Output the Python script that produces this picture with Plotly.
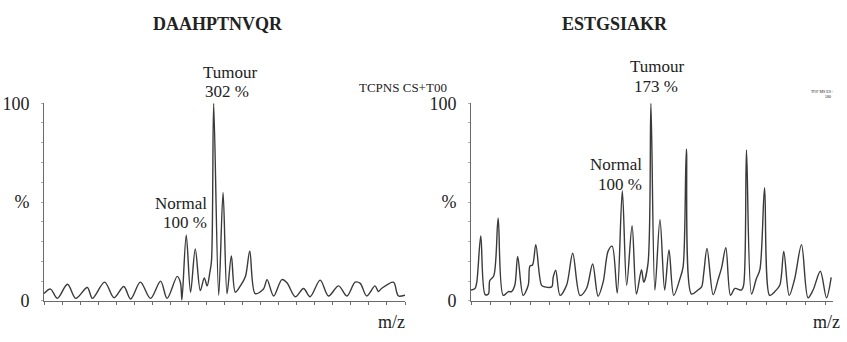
import plotly.graph_objects as go

# ---------------- data ----------------
peptide_left = "DAAHPTNVQR"
peptide_right = "ESTGSIAKR"

left_mz = [0, 1.8, 3.7, 6.5, 8.8, 12.0, 13.4, 16.8, 19.4, 22.1, 24.0, 26.7, 29.5, 32.3, 34.1,
           36.9, 37.8, 38.2, 39.4, 40.6, 41.9, 43.3, 44.4, 45.2, 45.9, 46.4, 47.0, 48.4, 49.6,
           50.7, 51.9, 53.0, 54.4, 55.8, 57.0, 58.5, 60.8, 61.8, 63.6, 65.9, 67.3, 69.6, 71.9,
           73.7, 76.5, 78.8, 81.6, 83.9, 86.2, 87.6, 89.4, 91.7, 92.6, 93.5, 96.8, 97.7, 98.2, 100]
left_int = [3.7, 6.0, 1.3, 8.4, 1.3, 6.8, 1.3, 9.5, 1.6, 7.3, 1.0, 9.5, 1.3, 10.0, 1.3,
            12.4, 9.2, 0.5, 33.3, 4.4, 26.3, 5.2, 11.6, 7.6, 14.0, 20.3, 100, 2.9, 54.9,
            3.7, 22.7, 4.4, 7.6, 12.4, 25.1, 3.7, 6.0, 10.8, 2.5, 10.8, 9.2, 2.1, 6.3,
            2.1, 10.5, 2.5, 7.6, 2.5, 9.5, 8.9, 2.5, 7.6, 4.8, 6.3, 9.5, 4.4, 2.5, 2.9]

right_mz = [0, 1.1, 1.6, 2.7, 3.9, 4.8, 5.2, 6.3, 7.5, 8.9, 10.3, 11.2, 12.1, 12.9, 14.4,
            15.8, 16.3, 17.0, 17.9, 19.5, 20.4, 22.3, 22.7, 23.4, 24.6, 26.4, 28.1, 30.1,
            31.9, 33.6, 35.1, 36.5, 37.9, 39.0, 40.4, 41.8, 43.0, 44.5, 45.7, 47.1, 47.7,
            48.9, 49.7, 50.8, 52.2, 53.5, 54.7, 56.0, 57.7, 58.6, 59.5, 60.9, 62.7, 63.7,
            64.3, 65.2, 66.9, 68.3, 69.2, 70.4, 71.7, 72.9, 74.7, 75.3, 76.1, 77.5, 78.8,
            79.8, 81.1, 82.5, 83.9, 85.3, 86.4, 87.9, 89.4, 91.3, 93.1, 94.5, 96.5, 98.2, 99.5]
right_int = [5.5, 6.3, 9.5, 32.9, 3.2, 3.5, 10.3, 12.7, 41.9, 2.8, 4.7, 4.7, 7.9, 22.5, 2.8,
             7.9, 17.7, 18.2, 28.5, 7.9, 7.1, 7.1, 11.9, 15.5, 2.8, 7.9, 24.1, 2.8,
             6.3, 18.7, 2.4, 9.5, 25.3, 27.7, 4.0, 55.7, 7.9, 38.0, 3.5, 15.8, 9.5,
             19.0, 100, 5.5, 41.1, 5.5, 25.8, 2.8, 11.1, 17.4, 76.7, 3.5, 5.5, 7.1,
             14.2, 26.6, 3.2, 11.1, 16.6, 26.9, 2.8, 6.3, 5.5, 7.9, 76.3, 3.5, 11.1,
             15.8, 57.3, 2.8, 4.7, 7.9, 25.0, 2.8, 11.1, 28.5, 1.6, 5.5, 15.0, 1.6, 11.9]

y_tickvals = [0, 10, 20, 30, 40, 50, 60, 70, 80, 90, 100]
y_ticktext = ["0", "", "", "", "", "%", "", "", "", "", "100"]

tumour_left = ["Tumour", "302 %"]
tumour_right = ["Tumour", "173 %"]
normal_left = ["Normal", "100 %"]
normal_right = ["Normal", "100 %"]
header_mid = "TCPNS CS+T00"
header_right = ["TOF MS ES+", "580"]
x_title = "m/z"

# ---------------- figure ----------------
W, H = 847, 342
FONT = "Liberation Serif"
LINE = "#3a3a3a"
AXIS = "#6a6a6a"


def px(x):
    return x / W


def py(y):
    return 1 - y / H


fig = go.Figure()
for xs, ys, xa, ya in [(left_mz, left_int, "x", "y"), (right_mz, right_int, "x2", "y2")]:
    fig.add_trace(go.Scatter(x=xs, y=ys, mode="lines", xaxis=xa, yaxis=ya,
                             line=dict(color=LINE, width=1.4, shape="spline", smoothing=0.9),
                             showlegend=False, hoverinfo="skip"))

xcommon = dict(range=[0, 100], showline=True, linecolor=AXIS, linewidth=1, showgrid=False,
               zeroline=False, ticks="outside", ticklen=3, tickcolor=AXIS, showticklabels=False)
ycommon = dict(range=[0, 100], showline=True, linecolor=AXIS, linewidth=1, showgrid=False,
               zeroline=False, ticks="outside", ticklen=2, tickcolor="#aaaaaa",
               tickvals=y_tickvals, ticktext=y_ticktext, ticklabelstandoff=8,
               tickfont=dict(family=FONT, size=18, color="#222"))

fig.update_layout(
    width=W, height=H,
    margin=dict(l=0, r=0, t=0, b=0),
    paper_bgcolor="white", plot_bgcolor="white",
    font=dict(family=FONT, color="#222"),
    xaxis=dict(domain=[px(44), px(405)], anchor="y", tick0=0, dtick=5, **xcommon),
    yaxis=dict(domain=[py(309), py(99)], anchor="x", **ycommon),
    xaxis2=dict(domain=[px(471), px(833)], anchor="y2", tick0=0, dtick=5.44, **xcommon),
    yaxis2=dict(domain=[py(309), py(99)], anchor="x2", **ycommon),
)

ann = []


def add(text, x, y, size=18, bold=False, xanchor="center"):
    t = f"<b>{text}</b>" if bold else text
    ann.append(dict(text=t, x=px(x), y=py(y), xref="paper", yref="paper", showarrow=False,
                    xanchor=xanchor, yanchor="middle",
                    font=dict(family=FONT, size=size, color="#222")))


add(peptide_left, 218, 15, size=18, bold=True)
add(peptide_right, 615, 15, size=18, bold=True)
add(tumour_left[0], 230, 66, size=17)
add(tumour_left[1], 227, 87, size=17)
add(tumour_right[0], 657, 60, size=17)
add(tumour_right[1], 656, 81, size=17)
add(normal_left[0], 209, 205, size=17, xanchor="right")
add(normal_left[1], 209, 226, size=17, xanchor="right")
add(normal_right[0], 644, 164, size=17, xanchor="right")
add(normal_right[1], 644, 185, size=17, xanchor="right")
add(header_mid, 403, 82, size=13)
add(header_right[0], 822, 87, size=4)
add(header_right[1], 828, 92, size=4)
add(x_title, 391, 331)
add(x_title, 826, 331)

fig.update_layout(annotations=ann)
fig.write_html("out.html", config={"displayModeBar": False},
               post_script="document.body.style.margin='0px';")
